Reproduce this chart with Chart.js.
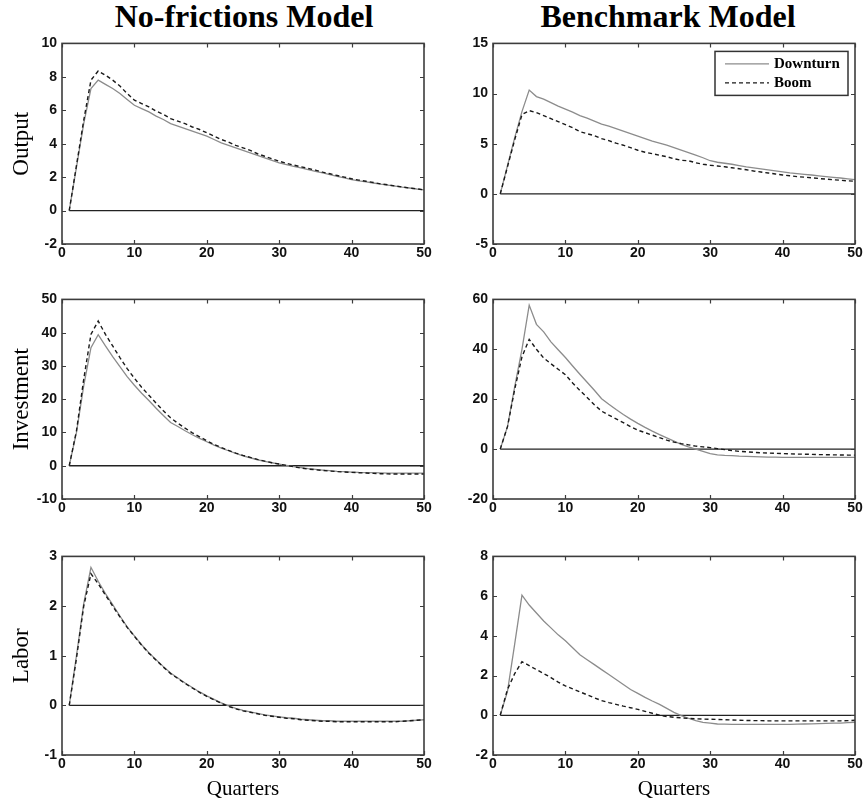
<!DOCTYPE html>
<html>
<head>
<meta charset="utf-8">
<script src="https://cdn.jsdelivr.net/npm/chart.js@4.4.1/dist/chart.umd.min.js"></script>
<style>
html,body{margin:0;padding:0;background:#fff;width:867px;height:802px;overflow:hidden;position:relative}
canvas{position:absolute}
.ttl{position:absolute;top:0;font:bold 32px 'Liberation Serif','Times New Roman',serif;line-height:32px;white-space:nowrap;transform:translateX(-50%);color:#000}
</style>
</head>
<body>
<div class="ttl" style="left:244px">No-frictions Model</div>
<div class="ttl" style="left:668px">Benchmark Model</div>
<canvas id="c1" width="440" height="240" style="left:0;top:30px"></canvas>
<canvas id="c2" width="437" height="240" style="left:430px;top:30px"></canvas>
<canvas id="c3" width="440" height="239" style="left:0;top:286px"></canvas>
<canvas id="c4" width="437" height="239" style="left:430px;top:286px"></canvas>
<canvas id="c5" width="440" height="259" style="left:0;top:543px"></canvas>
<canvas id="c6" width="437" height="259" style="left:430px;top:543px"></canvas>
<script>
// ---------------- data ----------------
const quarters = [1,2,3,4,5,6,7,8,9,10,11,12,13,14,15,16,17,18,19,20,21,22,23,24,25,26,27,28,29,30,31,32,33,34,35,36,37,38,39,40,41,42,43,44,45,46,47,48,49,50];
const xTickLabels = [0,10,20,30,40,50];
const seriesNames = ['Downturn', 'Boom'];
const colTitles = ['No-frictions Model', 'Benchmark Model'];
const rowTitles = ['Output', 'Investment', 'Labor'];
const xTitle = 'Quarters';

const outputNoFrictionsDownturn = [0,2.6,5.2,7.3,7.8,7.55,7.3,7.0,6.65,6.3, 6.1,5.9,5.65,5.45,5.2,5.05,4.9,4.75,4.6,4.45, 4.25,4.05,3.9,3.75,3.6,3.45,3.3,3.15,3.0,2.85, 2.75,2.65,2.55,2.45,2.35,2.25,2.15,2.05,1.95,1.85, 1.78,1.72,1.65,1.58,1.52,1.46,1.4,1.35,1.29,1.24];
const outputNoFrictionsBoom = [0,2.7,5.4,7.8,8.35,8.1,7.8,7.45,7.0,6.6, 6.4,6.2,5.95,5.75,5.5,5.35,5.2,5.0,4.85,4.65, 4.45,4.25,4.1,3.9,3.75,3.6,3.4,3.25,3.1,2.95, 2.83,2.72,2.62,2.52,2.42,2.3,2.2,2.1,2.0,1.9, 1.82,1.75,1.68,1.6,1.54,1.47,1.41,1.35,1.3,1.24];
const outputBenchmarkDownturn = [0,2.8,5.6,8.2,10.35,9.7,9.45,9.1,8.75,8.45, 8.15,7.8,7.55,7.25,6.95,6.75,6.5,6.25,6.0,5.75, 5.5,5.25,5.05,4.85,4.6,4.35,4.1,3.85,3.6,3.3, 3.15,3.05,2.95,2.82,2.7,2.6,2.5,2.4,2.3,2.2, 2.1,2.02,1.95,1.88,1.8,1.72,1.65,1.58,1.5,1.42];
const outputBenchmarkBoom = [0,2.7,5.4,7.9,8.3,8.1,7.8,7.5,7.2,6.9, 6.6,6.2,6.0,5.8,5.5,5.3,5.05,4.85,4.6,4.35, 4.15,4.0,3.85,3.7,3.5,3.35,3.3,3.1,2.95,2.85, 2.78,2.7,2.6,2.5,2.4,2.28,2.18,2.08,1.98,1.88, 1.8,1.72,1.66,1.6,1.53,1.47,1.41,1.35,1.3,1.25];

const investNoFrictionsDownturn = [0,10,24,35.5,39.4,36.0,32.8,29.8,26.8,24.2, 21.8,19.6,17.3,15.1,13.0,11.8,10.5,9.3,8.2,7.2, 6.2,5.3,4.5,3.7,3.0,2.4,1.8,1.3,0.9,0.5, 0.1,-0.3,-0.6,-0.9,-1.1,-1.3,-1.5,-1.7,-1.8,-1.9, -2.0,-2.05,-2.1,-2.15,-2.2,-2.2,-2.2,-2.2,-2.2,-2.2];
const investNoFrictionsBoom = [0,10.5,26,39.5,43.5,39.5,36,32.5,29.2,26.3, 23.6,21.2,18.8,16.5,14.4,12.8,11.3,9.9,8.7,7.5, 6.4,5.5,4.6,3.8,3.1,2.5,1.9,1.4,0.9,0.5, 0.1,-0.3,-0.7,-1.0,-1.2,-1.4,-1.6,-1.75,-1.9,-2.0, -2.1,-2.2,-2.3,-2.4,-2.45,-2.5,-2.5,-2.5,-2.5,-2.5];
const investBenchmarkDownturn = [0,9,25,40,57.7,50,47,43,39.8,36.7, 33.3,30.0,26.8,23.6,20.2,18.0,15.9,13.9,12.0,10.3, 8.7,7.2,5.8,4.5,3.2,1.9,0.9,0,-0.9,-1.8, -2.3,-2.5,-2.6,-2.8,-2.9,-3.0,-3.1,-3.2,-3.2,-3.3, -3.3,-3.3,-3.3,-3.3,-3.3,-3.3,-3.3,-3.3,-3.3,-3.3];
const investBenchmarkBoom = [0,9,24,37,44,40,36.5,34.2,32,29.8, 26.5,23.5,20.7,17.8,15.2,13.6,12.1,10.6,9.0,7.6, 6.6,5.6,4.6,3.6,2.8,2.2,1.7,1.2,0.9,0.6, 0.2,-0.2,-0.6,-0.9,-1.1,-1.3,-1.5,-1.6,-1.7,-1.8, -1.9,-2.0,-2.05,-2.1,-2.2,-2.25,-2.3,-2.35,-2.4,-2.4];

const laborNoFrictionsDownturn = [0,1.0,2.05,2.78,2.5,2.25,2.03,1.8,1.58,1.4, 1.22,1.06,0.92,0.78,0.65,0.55,0.45,0.36,0.27,0.19, 0.12,0.05,-0.01,-0.06,-0.1,-0.13,-0.16,-0.19,-0.21,-0.23, -0.25,-0.26,-0.28,-0.29,-0.3,-0.31,-0.31,-0.32,-0.32,-0.32, -0.32,-0.32,-0.32,-0.32,-0.32,-0.32,-0.32,-0.31,-0.3,-0.29];
const laborNoFrictionsBoom = [0,0.95,2.0,2.65,2.45,2.22,2.0,1.78,1.57,1.39, 1.21,1.05,0.91,0.77,0.64,0.54,0.44,0.35,0.26,0.18, 0.11,0.04,-0.02,-0.07,-0.11,-0.14,-0.17,-0.2,-0.22,-0.24, -0.26,-0.27,-0.29,-0.3,-0.31,-0.32,-0.32,-0.33,-0.33,-0.33, -0.33,-0.33,-0.33,-0.33,-0.33,-0.33,-0.32,-0.31,-0.3,-0.29];
const laborBenchmarkDownturn = [0,1.2,3.6,6.05,5.55,5.15,4.75,4.4,4.05,3.75, 3.4,3.05,2.8,2.55,2.3,2.05,1.8,1.55,1.3,1.1, 0.9,0.72,0.55,0.35,0.15,-0.02,-0.15,-0.27,-0.36,-0.4, -0.44,-0.45,-0.46,-0.46,-0.46,-0.46,-0.46,-0.46,-0.46,-0.46, -0.46,-0.45,-0.44,-0.43,-0.42,-0.41,-0.4,-0.39,-0.37,-0.35];
const laborBenchmarkBoom = [0,1.3,2.1,2.7,2.5,2.3,2.1,1.9,1.67,1.48, 1.33,1.18,1.03,0.88,0.74,0.64,0.55,0.46,0.38,0.3, 0.2,0.1,0.0,-0.06,-0.1,-0.13,-0.16,-0.18,-0.19,-0.2, -0.21,-0.22,-0.24,-0.25,-0.26,-0.27,-0.27,-0.28,-0.28,-0.28, -0.28,-0.28,-0.28,-0.28,-0.28,-0.28,-0.28,-0.28,-0.27,-0.25];

const outputNoFrictionsTicks = [-2,0,2,4,6,8,10];
const outputBenchmarkTicks = [-5,0,5,10,15];
const investNoFrictionsTicks = [-10,0,10,20,30,40,50];
const investBenchmarkTicks = [-20,0,20,40,60];
const laborNoFrictionsTicks = [-1,0,1,2,3];
const laborBenchmarkTicks = [-2,0,2,4,6,8];
const zeroLevel = 0;

// ---------------- styling / plugins ----------------
const TICK_FONT = {family: "'Liberation Sans', Arial, sans-serif", weight: 'bold', size: 14};
const LABEL_FAMILY = "'Liberation Serif', 'Times New Roman', serif";

const framePlugin = {
  id: 'frame',
  afterDatasetsDraw(chart) {
    const {ctx, chartArea: a, scales: {x, y}} = chart;
    ctx.save();
    ctx.strokeStyle = '#3c3c3c';
    ctx.lineWidth = 1.2;
    ctx.beginPath();
    x.ticks.forEach(t => {
      const px = Math.round(x.getPixelForValue(t.value)) + 0.5;
      ctx.moveTo(px, a.bottom); ctx.lineTo(px, a.bottom - 4);
      ctx.moveTo(px, a.top); ctx.lineTo(px, a.top + 4);
    });
    y.ticks.forEach(t => {
      const py = Math.round(y.getPixelForValue(t.value)) + 0.5;
      ctx.moveTo(a.left, py); ctx.lineTo(a.left + 4, py);
      ctx.moveTo(a.right, py); ctx.lineTo(a.right - 4, py);
    });
    ctx.stroke();
    ctx.lineWidth = 1.6;
    ctx.strokeRect(a.left, a.top, a.right - a.left, a.bottom - a.top);
    ctx.restore();
  }
};

const boxLegendPlugin = {
  id: 'boxLegend',
  afterDraw(chart, args, opts) {
    if (!opts || !opts.show) return;
    const {ctx, chartArea: a} = chart;
    const w = 133, h = 44;
    const bx = a.right - 7 - w, by = a.top + 8;
    ctx.save();
    ctx.fillStyle = '#fff';
    ctx.fillRect(bx, by, w, h);
    ctx.strokeStyle = '#333';
    ctx.lineWidth = 1.5;
    ctx.strokeRect(bx, by, w, h);
    const items = chart.data.datasets.filter(d => seriesNames.includes(d.label));
    items.forEach((d, i) => {
      const yy = by + 12 + i * 19;
      ctx.beginPath();
      ctx.strokeStyle = d.borderColor;
      ctx.lineWidth = d.borderWidth;
      ctx.setLineDash(d.borderDash || []);
      ctx.moveTo(bx + 10, yy + 0.5);
      ctx.lineTo(bx + 54, yy + 0.5);
      ctx.stroke();
      ctx.setLineDash([]);
      ctx.fillStyle = '#000';
      ctx.font = "bold 15px " + LABEL_FAMILY;
      ctx.textBaseline = 'middle';
      ctx.textAlign = 'left';
      ctx.fillText(d.label, bx + 59, yy + 1);
    });
    ctx.restore();
  }
};

function pts(arr) { return quarters.map((q, i) => ({x: q, y: arr[i]})); }

function makeChart(id, downturn, boom, yTicks, opt) {
  const leftWidth = opt.left ? 62 : 63;
  const xHeight = opt.bottom ? 47 : 26;
  const datasets = [
    {label: seriesNames[0], data: pts(downturn), borderColor: '#8c8c8c', borderWidth: 1.3, pointRadius: 0, fill: false, tension: 0, order: 1},
    {label: seriesNames[1], data: pts(boom), borderColor: '#1a1a1a', borderWidth: 1.4, borderDash: [4, 3], pointRadius: 0, fill: false, tension: 0, order: 0},
    {label: 'zero', data: [{x: quarters[0], y: zeroLevel}, {x: quarters[quarters.length - 1], y: zeroLevel}], borderColor: '#222', borderWidth: 1.3, pointRadius: 0, fill: false, order: 2}
  ];
  return new Chart(document.getElementById(id), {
    type: 'line',
    data: {datasets},
    plugins: [framePlugin, boxLegendPlugin],
    options: {
      responsive: false,
      animation: false,
      devicePixelRatio: 1,
      layout: {padding: {top: 10, right: opt.left ? 16 : 12, bottom: 0, left: 0}},
      plugins: {legend: {display: false}, tooltip: {enabled: false}, boxLegend: {show: !!opt.legend}},
      scales: {
        x: {
          type: 'linear',
          min: xTickLabels[0],
          max: xTickLabels[xTickLabels.length - 1],
          afterBuildTicks: s => { s.ticks = xTickLabels.map(v => ({value: v})); },
          afterFit: s => { s.height = xHeight; },
          grid: {display: false, drawTicks: false},
          border: {display: false},
          ticks: {font: TICK_FONT, color: '#111', padding: 1, maxRotation: 0, autoSkip: false},
          title: {display: !!opt.bottom, text: xTitle, color: '#000', font: {family: LABEL_FAMILY, size: 21, lineHeight: 1}, padding: {top: 0, bottom: 2}}
        },
        y: {
          min: yTicks[0],
          max: yTicks[yTicks.length - 1],
          afterBuildTicks: s => { s.ticks = yTicks.map(v => ({value: v})); },
          afterFit: s => { s.width = leftWidth; },
          grid: {display: false, drawTicks: false},
          border: {display: false},
          ticks: {font: TICK_FONT, color: '#111', padding: 5, autoSkip: false},
          title: {display: !!opt.yTitle, text: opt.yTitle || '', color: '#000', font: {family: LABEL_FAMILY, size: 23, lineHeight: 1}, padding: {top: 10, bottom: 0}}
        }
      }
    }
  });
}

makeChart('c1', outputNoFrictionsDownturn, outputNoFrictionsBoom, outputNoFrictionsTicks, {left: true, yTitle: rowTitles[0]});
makeChart('c2', outputBenchmarkDownturn, outputBenchmarkBoom, outputBenchmarkTicks, {left: false, legend: true});
makeChart('c3', investNoFrictionsDownturn, investNoFrictionsBoom, investNoFrictionsTicks, {left: true, yTitle: rowTitles[1]});
makeChart('c4', investBenchmarkDownturn, investBenchmarkBoom, investBenchmarkTicks, {left: false});
makeChart('c5', laborNoFrictionsDownturn, laborNoFrictionsBoom, laborNoFrictionsTicks, {left: true, yTitle: rowTitles[2], bottom: true});
makeChart('c6', laborBenchmarkDownturn, laborBenchmarkBoom, laborBenchmarkTicks, {left: false, bottom: true});
</script>
</body>
</html>
